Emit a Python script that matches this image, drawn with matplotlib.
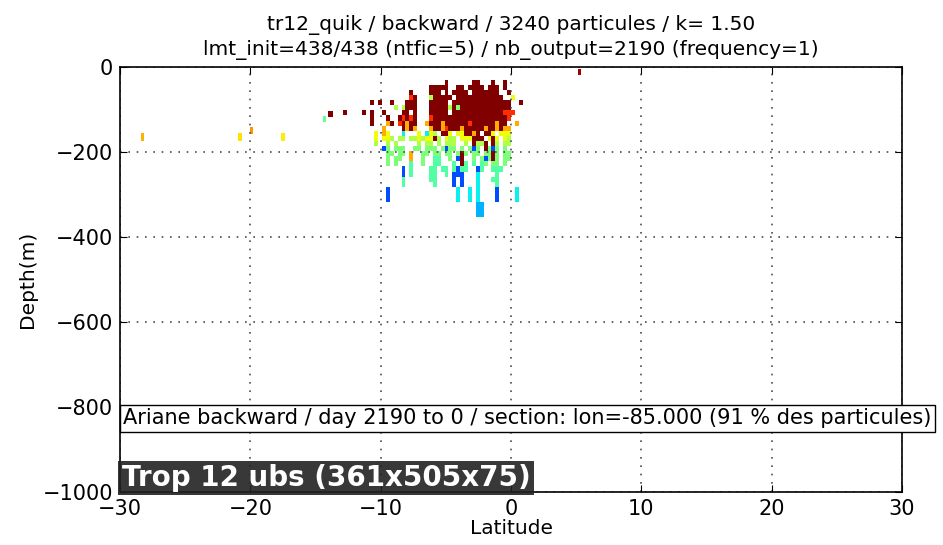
import numpy as np
import matplotlib
matplotlib.use('Agg')
import matplotlib.pyplot as plt

# particle section: rows = depth levels (top -> bottom), one char per latitude cell
lat_start = -13.2
lat_step = 0.3
depth_start = 30.0
depth_step = 12.0

rows = [
    "...........................R......RR...R..R....",
    ".......................RRRRR..RR.RRRR.RRR.R....",
    "..................R....RRR.R.RRRR.RRRRRRR..R...",
    "..................rR...lRRRRR.RRRRRRRRRRRR..y..",
    "........R.R..R...RRR...RRRRR.RRRRRRRRRRRRRRR..R",
    "..............l.lRRR...RRRRRlRgRRRRRRRRRRRRR...",
    ".R....R.R..R....RR.R...RRRRR.RRRRRRRRRRRRRrrr..",
    "........R...R..RrRrR...rRRRRRRRRRRRRRRRRRRRr...",
    "........R...oR.rRoRR..oRRRoRRRRRRrRRRRRRoRR..o.",
    "...........o....RoRo...oRRorRRRoRRRRRoRRoRoo...",
    ".........y.oy...c...y.cyl.RRy.yyRRoR.RRy.yyy...",
    ".........y.yyl.ll.llylyyRl.yll.yyyRRR.yRy.yl...",
    ".........l..l.l.....l.ll.l.lll..l.RllR.Rl.ll...",
    "...........bg.ggg..gg.ggg.gbgg.g.gbg.Rgbg.g...",
    "............gg.gg.o..gg.gg.gg.gRg.gg.ggRg.gg...",
    "............g.gg..o..g..aa..g.bR..g.gbgRg.gg...",
    "............g.g...a..g..aa...a.Ra.a.ag.gg.g...",
    "................b.a....aa.aa.abaa..ba..aaa.....",
    "................b.a....aa..a.bbb...c....a......",
    "................a......aa....b.b...c...aa......",
    "................a.......a....b.b...c....a......",
    "............b.................c..c.c....b....c.",
    "............b.................c..c.c....b....c.",
    "............b.................c..c.c....b....c.",
    "...................................ss..........",
    "...................................ss..........",
    "...................................ss..........",
]

# colour level of each code on the jet scale
codes = {'R': 1.0, 'r': 0.86, 'o': 0.73, 'y': 0.64, 'l': 0.56, 'g': 0.5,
         'a': 0.45, 'c': 0.36, 's': 0.3, 'b': 0.2}

# isolated particles: latitude, top depth, bottom depth, colour level, width
iso_lat = [-28.3, -20.8, -19.9, -17.5, -14.3, -13.85, 5.25]
iso_top = [155, 155, 140, 155, 115, 103, 5]
iso_bot = [174, 174, 158, 174, 129, 118, 19]
iso_val = [0.72, 0.67, 0.75, 0.66, 0.47, 1.0, 0.97]
iso_wid = [0.25, 0.25, 0.25, 0.25, 0.2, 0.45, 0.25]

title = ("tr12_quik / backward / 3240 particules / k= 1.50\n"
         "lmt_init=438/438 (ntfic=5) / nb_output=2190 (frequency=1)")
info = "Ariane backward / day 2190 to 0 / section: lon=-85.000 (91 % des particules)"
tag = "Trop 12 ubs (361x505x75)"

ncol = max(len(r) for r in rows)
grid = np.full((len(rows), ncol), np.nan)
for j, r in enumerate(rows):
    for i, ch in enumerate(r):
        if ch in codes:
            grid[j, i] = codes[ch]
lat_edges = lat_start + lat_step * np.arange(ncol + 1)
dep_edges = -(depth_start + depth_step * np.arange(len(rows) + 1))

fig = plt.figure(figsize=(9.43, 5.45), dpi=100)
ax = fig.add_axes([0.1273, 0.0972, 0.8292, 0.7798])

cmap = plt.get_cmap('jet')
ax.pcolormesh(lat_edges, dep_edges, np.ma.masked_invalid(grid), cmap=cmap,
              vmin=0, vmax=1, shading='flat')
for la, t, b, v, w in zip(iso_lat, iso_top, iso_bot, iso_val, iso_wid):
    ax.bar(la, -(b - t), bottom=-t, width=w, color=cmap(v), linewidth=0)

ax.set_xlim(-30, 30)
ax.set_ylim(-1000, 0)
ax.set_xticks([-30, -20, -10, 0, 10, 20, 30])
ax.set_yticks([0, -200, -400, -600, -800, -1000])
ax.grid(True, color='0.3', linestyle=(0, (1, 4)), linewidth=1.2)
ax.tick_params(direction='in', top=True, right=True, length=5, labelsize=15, pad=5)
for s in ax.spines.values():
    s.set_linewidth(1.2)
ax.set_xlabel('Latitude', fontsize=14.5, labelpad=0)
ax.set_ylabel('Depth(m)', fontsize=14.5)
ax.set_title(title, fontsize=14.5, linespacing=1.3, pad=9)

ax.text(-29.75, -826, info, fontsize=15, ha='left', va='center', clip_on=False,
        bbox=dict(facecolor='white', edgecolor='black', pad=2.5))
fig.text(0.129, 0.123, tag, fontsize=20, fontweight='bold', color='white',
         ha='left', va='center',
         bbox=dict(facecolor='#222222', edgecolor='none', alpha=0.9, pad=2.5))

fig.savefig('out.png', dpi=100)
